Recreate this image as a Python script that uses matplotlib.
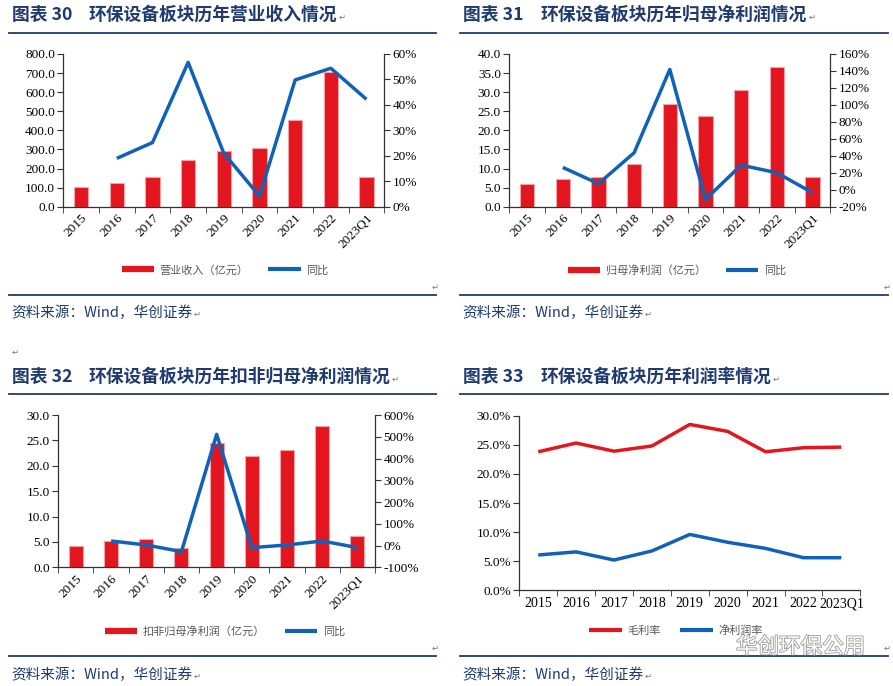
import numpy as np
import matplotlib
matplotlib.use("Agg")
import matplotlib.pyplot as plt
from matplotlib.lines import Line2D
import matplotlib.patheffects as pe

# ---------------- data ----------------
categories = ["2015", "2016", "2017", "2018", "2019", "2020", "2021", "2022", "2023Q1"]

revenue = [104.8, 125.8, 157.0, 243.0, 290.0, 305.7, 454.0, 707.0, 157.0]
revenue_yoy = [np.nan, 19.0, 25.2, 56.7, 21.0, 4.2, 49.8, 54.4, 42.2]

net_profit = [5.85, 7.3, 7.9, 11.2, 26.8, 23.8, 30.7, 36.6, 7.9]
net_profit_yoy = [np.nan, 26.3, 7.1, 43.6, 141.8, -11.4, 29.0, 20.0, -3.5]

deducted_profit = [4.27, 5.25, 5.5, 3.9, 24.4, 21.9, 23.1, 27.8, 6.2]
deducted_profit_yoy = [np.nan, 21.0, 2.6, -28.0, 511.0, -9.6, 2.6, 21.0, -9.6]

gross_margin = [23.8, 25.3, 23.9, 24.8, 28.5, 27.3, 23.8, 24.5, 24.6]
net_margin = [6.07, 6.6, 5.2, 6.76, 9.6, 8.25, 7.2, 5.6, 5.6]

title_nums = ["图表 30", "图表 31", "图表 32", "图表 33"]
titles = ["环保设备板块历年营业收入情况",
          "环保设备板块历年归母净利润情况",
          "环保设备板块历年扣非归母净利润情况",
          "环保设备板块历年利润率情况"]
source_text = "资料来源：Wind，华创证券"

# ---------------- style ----------------
W, H = 893, 686
RED = "#E3161F"
BLUE = "#0F62B8"
NAVY = "#1F3A6E"
GRAY_TXT = "#595959"
SERIF = ["Liberation Serif", "Noto Sans CJK SC"]
CJK = ["Noto Sans CJK SC", "DejaVu Sans"]

plt.rcParams["font.family"] = SERIF

fig = plt.figure(figsize=(W / 100, H / 100), dpi=100)
renderer = fig.canvas.get_renderer()


def rect(l, t, r, b):
    return [l / W, 1 - b / H, (r - l) / W, (b - t) / H]


def fx(x):
    return x / W


def fy(y):
    return 1 - y / H


def hline(x0, x1, y, lw=1.3):
    fig.add_artist(Line2D([fx(x0), fx(x1)], [fy(y), fy(y)], color=NAVY, lw=lw,
                          transform=fig.transFigure))


def mark(px, py):
    fig.text(fx(px), fy(py), "↵", family=["DejaVu Sans"], fontsize=6, color="#777777",
             va="center", ha="left")


def mark_after(t, py):
    bb = t.get_window_extent(renderer=renderer)
    mark(bb.x1 + 1, py)


def frame(x0, x1, title_y, uline_y, bottom_y, source_y, num, title, text_x):
    fig.text(fx(x0 + 3), fy(title_y), num, family=CJK, fontsize=12.8,
             fontweight="bold", color=NAVY, va="center", ha="left")
    t = fig.text(fx(text_x), fy(title_y), title, family=CJK, fontsize=12.8,
                 fontweight="bold", color=NAVY, va="center", ha="left")
    mark_after(t, title_y + 2)
    hline(x0, x1, uline_y)
    hline(x0, x1, bottom_y)
    s = fig.text(fx(x0 + 2), fy(source_y), source_text, family=CJK, fontsize=10.5,
                 color=NAVY, va="center", ha="left", style="italic")
    mark_after(s, source_y + 1)
    mark(x1 - 4, bottom_y - 8)


def style_axis(ax, n):
    ax.set_xlim(-0.5, n - 0.5)
    ax.set_xticks(np.arange(n))
    ax.set_xticks(np.arange(n + 1) - 0.5, minor=True)
    ax.tick_params(axis="x", which="major", length=0, labelsize=9.5, pad=4)
    ax.tick_params(axis="x", which="minor", length=4, direction="out", color="#333333")
    ax.tick_params(axis="y", length=4, direction="out", labelsize=9.5, color="#333333", pad=2)
    for s in ["top", "right"]:
        ax.spines[s].set_visible(False)
    for s in ["left", "bottom"]:
        ax.spines[s].set_color("#333333")
        ax.spines[s].set_linewidth(0.9)


def combo(r, bars, yoy, yticks, rticks, rfmt, leg_label, leg_center):
    ax = fig.add_axes(rect(*r))
    n = len(categories)
    x = np.arange(n)
    ax.bar(x, bars, width=0.4, color=RED, edgecolor="#F3A3A6", linewidth=0.8, zorder=2)
    style_axis(ax, n)
    ax.set_ylim(yticks[0], yticks[-1])
    ax.set_yticks(yticks)
    ax.set_yticklabels([f"{v:.1f}" for v in yticks])
    ax.set_xticklabels(categories, rotation=45, ha="right", rotation_mode="anchor")
    ax2 = ax.twinx()
    ax2.plot(x, yoy, color=BLUE, lw=2.5, solid_capstyle="butt", zorder=3)
    ax2.set_ylim(rticks[0], rticks[-1])
    ax2.set_yticks(rticks)
    ax2.set_yticklabels([rfmt(v) for v in rticks])
    ax2.tick_params(axis="y", length=4, direction="out", labelsize=9.5, color="#333333", pad=2)
    for s in ["top", "left", "bottom"]:
        ax2.spines[s].set_visible(False)
    ax2.spines["right"].set_color("#333333")
    ax2.spines["right"].set_linewidth(0.9)
    handles = [Line2D([], [], color=RED, lw=4.5, solid_capstyle="butt"),
               Line2D([], [], color=BLUE, lw=3, solid_capstyle="butt")]
    fig.legend(handles, [leg_label, "同比"], loc="center",
               bbox_to_anchor=(fx(leg_center[0]), fy(leg_center[1])),
               ncol=2, frameon=False, handlelength=2.9, columnspacing=1.8,
               handletextpad=0.5, prop={"family": CJK, "size": 8},
               labelcolor=GRAY_TXT)
    return ax


def pct(v):
    return f"{v:.0f}%"


# ---------------- chart 30 ----------------
frame(9, 436, 15, 33, 295, 313, title_nums[0], titles[0], 89)
combo((63.3, 54, 384.3, 206.7), revenue, revenue_yoy,
      np.arange(0, 801, 100), np.arange(0, 61, 10), pct,
      "营业收入（亿元）", (225, 270))

# ---------------- chart 31 ----------------
frame(460, 888, 15, 33, 295, 313, title_nums[1], titles[1], 541)
combo((509.3, 54, 830.3, 206.7), net_profit, net_profit_yoy,
      np.arange(0, 40.1, 5), np.arange(-20, 161, 20), pct,
      "归母净利润（亿元）", (677, 270))

# ---------------- chart 32 ----------------
frame(9, 436, 377, 394, 656, 675, title_nums[2], titles[2], 89)
combo((58.3, 415, 375, 567.3), deducted_profit, deducted_profit_yoy,
      np.arange(0, 30.1, 5), np.arange(-100, 601, 100), pct,
      "扣非归母净利润（亿元）", (225, 631))

# ---------------- chart 33 ----------------
frame(460, 888, 377, 394, 656, 675, title_nums[3], titles[3], 541)
ax = fig.add_axes(rect(519.3, 415.7, 860.3, 590.3))
n = len(categories)
x = np.arange(n)
ax.plot(x, gross_margin, color=RED, lw=2.5, solid_capstyle="butt")
ax.plot(x, net_margin, color=BLUE, lw=2.5, solid_capstyle="butt")
style_axis(ax, n)
ax.set_xticklabels(categories)
ax.tick_params(axis="x", which="major", labelsize=10, pad=5)
yt = np.arange(0, 30.1, 5)
ax.set_ylim(0, 30)
ax.set_yticks(yt)
ax.set_yticklabels([f"{v:.1f}%" for v in yt])
handles = [Line2D([], [], color=RED, lw=3, solid_capstyle="butt"),
           Line2D([], [], color=BLUE, lw=3, solid_capstyle="butt")]
fig.legend(handles, ["毛利率", "净利润率"], loc="center",
           bbox_to_anchor=(fx(676), fy(631)), ncol=2, frameon=False,
           handlelength=2.9, columnspacing=1.8, handletextpad=0.5,
           prop={"family": CJK, "size": 8}, labelcolor=GRAY_TXT)

# watermark
fig.text(fx(736), fy(647), "华创环保公用", family=CJK, fontsize=15.5, color="white",
         va="center", ha="left",
         path_effects=[pe.withStroke(linewidth=1.2, foreground="#9a9a9a")])

mark(12, 352)

fig.savefig("out.png", dpi=100)
